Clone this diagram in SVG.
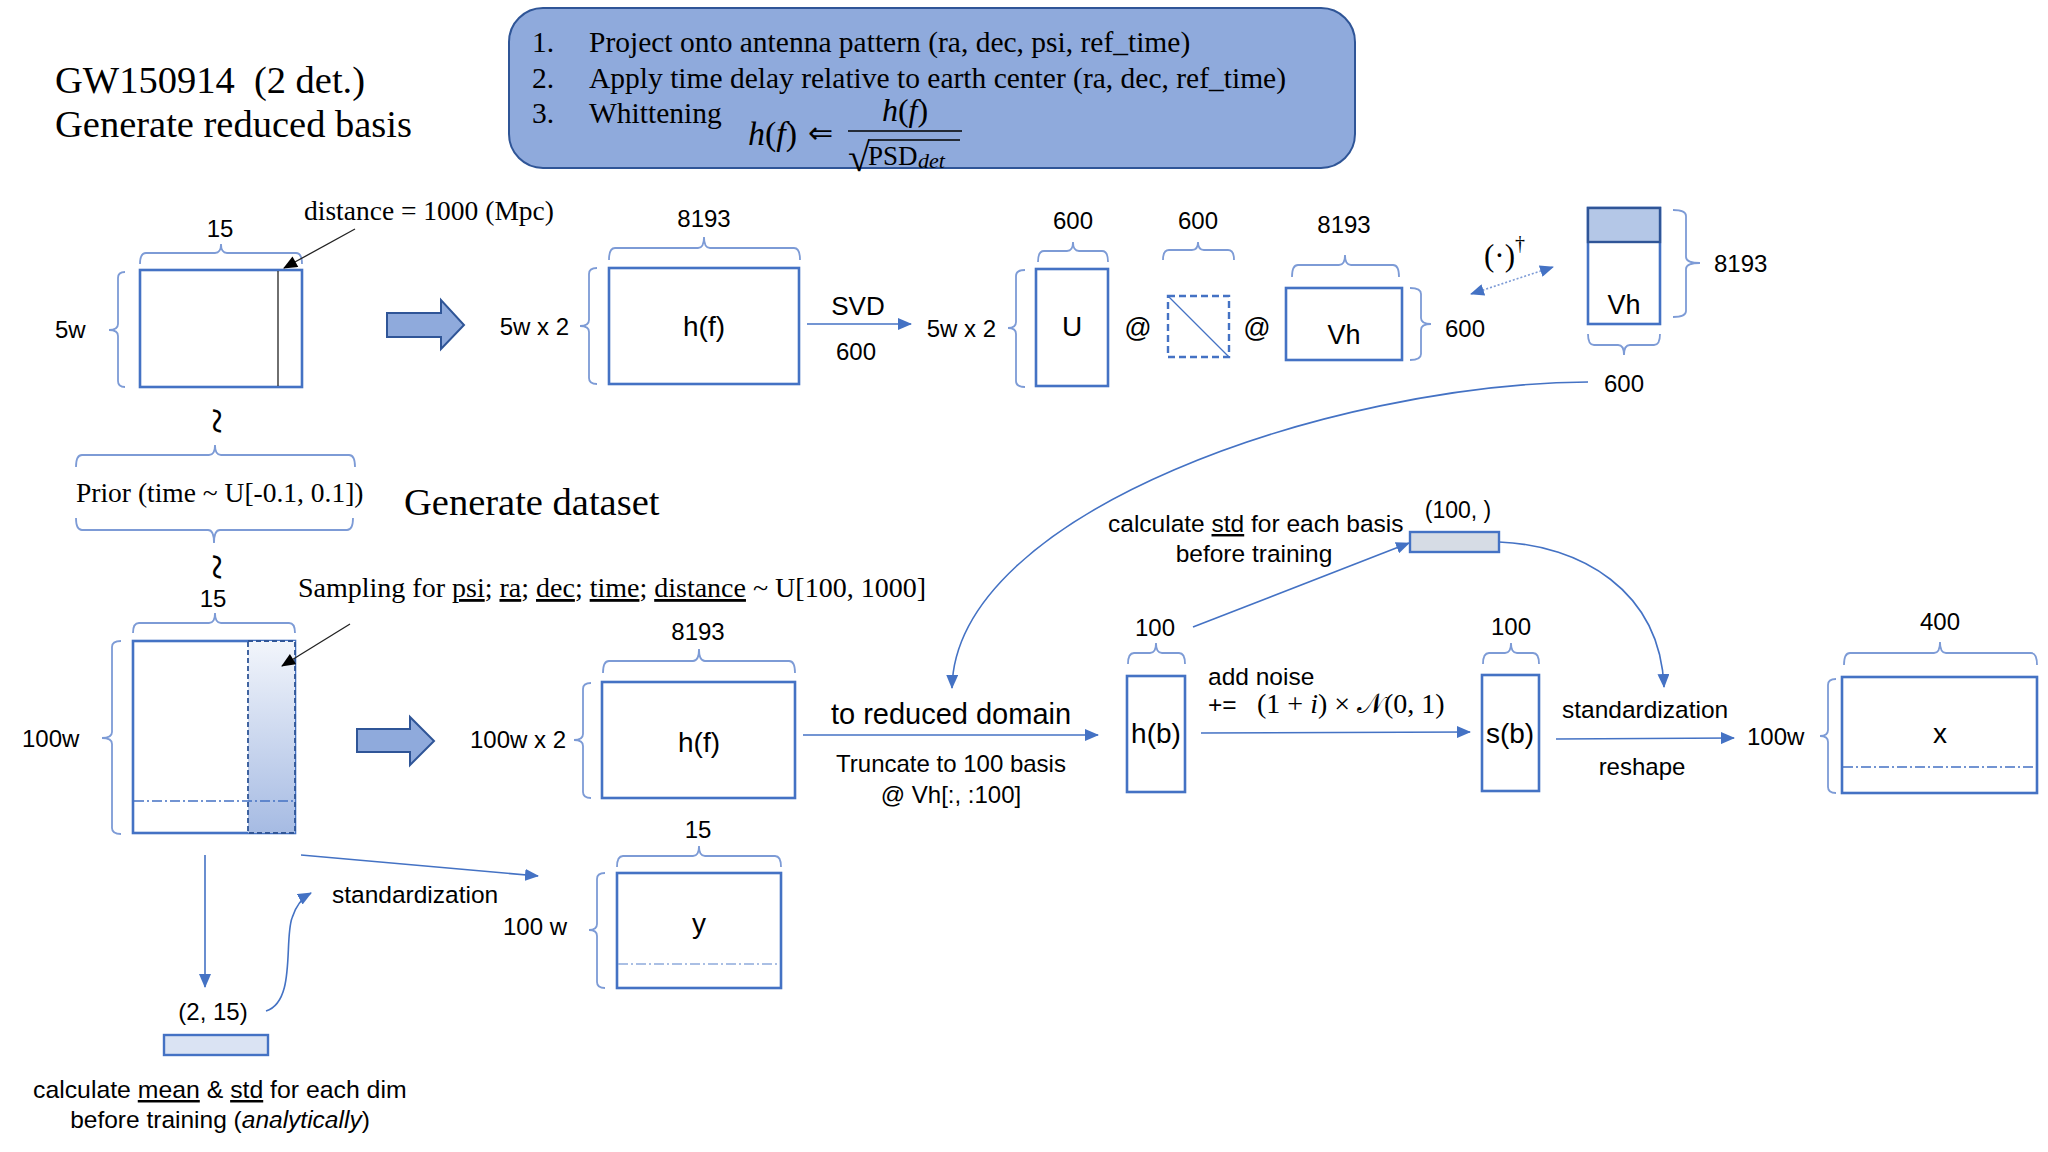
<svg xmlns="http://www.w3.org/2000/svg" width="2048" height="1152" viewBox="0 0 2048 1152">
<style>
.sf{font-family:"Liberation Serif","Times New Roman",serif;fill:#000}
.ss{font-family:"Liberation Sans",Arial,sans-serif;fill:#000}
.r{fill:#fff;stroke:#4472C4;stroke-width:2.6}
.br{fill:none;stroke:#7D9BD6;stroke-width:1.8}
.ln{fill:none;stroke:#4472C4;stroke-width:1.6}
.blk{fill:none;stroke:#222;stroke-width:1.3}
.dd{fill:none;stroke:#4472C4;stroke-width:1.3;stroke-dasharray:10 3 2 3}
.ba{fill:#8FAADC;stroke:#2F5597;stroke-width:2}
.m{text-anchor:middle}
.e{text-anchor:end}
.u{text-decoration:underline}
</style>
<defs>
<marker id="ab" viewBox="0 0 14 12" refX="13" refY="6" markerWidth="14" markerHeight="12" markerUnits="userSpaceOnUse" orient="auto-start-reverse"><path d="M0,0 L14,6 L0,12 z" fill="#4472C4"/></marker>
<marker id="ak" viewBox="0 0 14 12" refX="13" refY="6" markerWidth="15" markerHeight="12" markerUnits="userSpaceOnUse" orient="auto"><path d="M0,0 L14,6 L0,12 z" fill="#000"/></marker>
<linearGradient id="gcol" x1="0" y1="0" x2="0" y2="1"><stop offset="0" stop-color="#F2F5FB"/><stop offset="1" stop-color="#A6BBE3"/></linearGradient>
</defs>

<!-- titles -->
<g id="titles">
<text class="sf" x="55" y="93" font-size="38.5" style="white-space:pre">GW150914  (2 det.)</text>
<text class="sf" x="55" y="137" font-size="38.5">Generate reduced basis</text>
<text class="sf" x="404" y="515" font-size="38.5">Generate dataset</text>
</g>

<!-- info box -->
<g id="steps-box">
<rect x="509" y="8" width="846" height="160" rx="34" fill="#8FAADC" stroke="#2F5597" stroke-width="2"/>
<text class="sf" x="532" y="52" font-size="29.5">1.</text>
<text class="sf" x="589" y="52" font-size="29.5">Project onto antenna pattern (ra, dec, psi, ref_time)</text>
<text class="sf" x="532" y="88" font-size="29.5">2.</text>
<text class="sf" x="589" y="88" font-size="29.5">Apply time delay relative to earth center (ra, dec, ref_time)</text>
<text class="sf" x="532" y="123" font-size="29.5">3.</text>
<text class="sf" x="589" y="123" font-size="29.5">Whittening</text>
<text class="sf" x="748" y="145" font-size="34"><tspan font-style="italic">h</tspan>(<tspan font-style="italic">f</tspan>)</text>
<text x="808" y="143" font-size="30" font-family="DejaVu Sans, sans-serif">⇐</text>
<text class="sf m" x="905" y="121" font-size="32"><tspan font-style="italic">h</tspan>(<tspan font-style="italic">f</tspan>)</text>
<line x1="848" y1="131" x2="962" y2="131" stroke="#000" stroke-width="1.6"/>
<text class="sf" x="848" y="171" font-size="40">√</text>
<line x1="868" y1="140" x2="960" y2="140" stroke="#000" stroke-width="1.4"/>
<text class="sf" x="868" y="165" font-size="27">PSD</text>
<text class="sf" x="918" y="168" font-size="22" font-style="italic">det</text>
</g>

<!-- top row -->
<g id="m-5w">
<rect class="r" x="140" y="270" width="162" height="117"/>
<line x1="278" y1="271" x2="278" y2="386" stroke="#222" stroke-width="1.3"/>
<path class="br" d="M140 264 Q140 253 146 253 L215 253 Q221 253 221 244 Q221 253 227 253 L296 253 Q302 253 302 264"/>
<path class="br" d="M125 272 Q118 272 118 278 L118 324 Q118 330 109 330 Q118 330 118 336 L118 381 Q118 387 125 387"/>
<text class="ss m" x="220" y="237" font-size="24">15</text>
<text class="ss" x="55" y="338" font-size="24">5w</text>
<text class="sf" x="304" y="220" font-size="27.5">distance = 1000 (Mpc)</text>
</g>

<g id="blockarrow-1"><path class="ba" d="M387 313 L441 313 L441 300 L464 325 L441 349 L441 337 L387 337 Z"/></g>

<g id="hf-1">
<rect class="r" x="609" y="268" width="190" height="116"/>
<path class="br" d="M597 268 Q589 268 589 274 L589 320 Q589 326 580 326 Q589 326 589 332 L589 378 Q589 384 597 384"/>
<path class="br" d="M609 260 Q609 248 615 248 L698 248 Q704 248 704 237 Q704 248 710 248 L794 248 Q800 248 800 260"/>
<text class="ss m" x="704" y="336" font-size="28">h(f)</text>
<text class="ss m" x="704" y="227" font-size="24">8193</text>
<text class="ss e" x="569" y="335" font-size="24">5w x 2</text>
</g>

<g id="U">
<rect class="r" x="1036" y="269" width="72" height="117"/>
<path class="br" d="M1025 270 Q1016 270 1016 276 L1016 322 Q1016 328 1008 328 Q1016 328 1016 334 L1016 381 Q1016 387 1025 387"/>
<path class="br" d="M1038 262 Q1038 251 1044 251 L1067 251 Q1073 251 1073 242 Q1073 251 1079 251 L1102 251 Q1108 251 1108 262"/>
<text class="ss m" x="1072" y="336" font-size="28">U</text>
<text class="ss m" x="1073" y="229" font-size="24">600</text>
<text class="ss e" x="996" y="337" font-size="24">5w x 2</text>
</g>

<text class="ss m" x="1138" y="337" font-size="27">@</text>

<g id="S-diag">
<rect x="1168" y="296" width="61" height="61" fill="none" stroke="#4472C4" stroke-width="2.4" stroke-dasharray="7 4"/>
<line x1="1168" y1="296" x2="1229" y2="357" stroke="#4472C4" stroke-width="1.3"/>
<path class="br" d="M1163 260 Q1163 250 1169 250 L1192 250 Q1198 250 1198 242 Q1198 250 1204 250 L1228 250 Q1234 250 1234 260"/>
<text class="ss m" x="1198" y="229" font-size="24">600</text>
</g>

<text class="ss m" x="1257" y="337" font-size="27">@</text>

<g id="Vh">
<rect class="r" x="1286" y="288" width="116" height="72"/>
<path class="br" d="M1292 277 Q1292 265 1298 265 L1339 265 Q1345 265 1345 255 Q1345 265 1351 265 L1393 265 Q1399 265 1399 277"/>
<path class="br" d="M1410 288 Q1421 288 1421 294 L1421 318 Q1421 324 1431 324 Q1421 324 1421 330 L1421 354 Q1421 360 1410 360"/>
<text class="ss m" x="1344" y="344" font-size="27">Vh</text>
<text class="ss m" x="1344" y="233" font-size="24">8193</text>
<text class="ss" x="1445" y="337" font-size="24">600</text>
</g>

<g id="Vh-T">
<rect class="r" x="1588" y="208" width="72" height="116"/>
<rect x="1588" y="208" width="72" height="34" fill="#B4C7E7" stroke="#2F5597" stroke-width="2.4"/>
<path class="br" d="M1673 210 Q1686 210 1686 216 L1686 257 Q1686 263 1700 263 Q1686 263 1686 269 L1686 311 Q1686 317 1673 317"/>
<path class="br" d="M1588 334 Q1588 345 1594 345 L1618 345 Q1624 345 1624 355 Q1624 345 1630 345 L1654 345 Q1660 345 1660 334"/>
<text class="ss m" x="1624" y="314" font-size="27">Vh</text>
<text class="ss" x="1714" y="272" font-size="24">8193</text>
<text class="ss m" x="1624" y="392" font-size="24">600</text>
</g>
<text class="sf" x="1484" y="266" font-size="31">(·)</text>
<text class="sf" x="1515" y="250" font-size="20">†</text>

<!-- prior -->
<g id="prior">
<path class="br" d="M76 467 Q76 455 82 455 L209 455 Q215 455 215 445 Q215 455 221 455 L349 455 Q355 455 355 467"/>
<path class="br" d="M76 518 Q76 530 82 530 L208 530 Q214 530 214 543 Q214 530 220 530 L347 530 Q353 530 353 518"/>
<text class="sf" x="76" y="502" font-size="27.5">Prior (time ~ U[-0.1, 0.1])</text>
</g>
<text class="sf m" transform="translate(213,421) rotate(90)" font-size="48" dy="12">~</text>
<text class="sf m" transform="translate(213,567) rotate(90)" font-size="48" dy="12">~</text>

<!-- dataset -->
<g id="m-100w">
<rect class="r" x="133" y="641" width="162" height="192"/>
<rect x="248" y="641" width="47" height="192" fill="url(#gcol)" stroke="#2F5597" stroke-width="1.8" stroke-dasharray="5 3"/>
<line class="dd" x1="134" y1="801" x2="294" y2="801"/>
<path class="br" d="M133 633 Q133 623 139 623 L209 623 Q215 623 215 613 Q215 623 221 623 L289 623 Q295 623 295 633"/>
<path class="br" d="M121 641 Q112 641 112 647 L112 732 Q112 738 102 738 Q112 738 112 744 L112 828 Q112 834 121 834"/>
<text class="ss m" x="213" y="607" font-size="24">15</text>
<text class="ss" x="22" y="747" font-size="24">100w</text>
</g>
<text class="sf" x="298" y="597" font-size="28">Sampling for <tspan class="u">psi</tspan>; <tspan class="u">ra</tspan>; <tspan class="u">dec</tspan>; <tspan class="u">time</tspan>; <tspan class="u">distance</tspan> ~ U[100, 1000]</text>

<g id="blockarrow-2"><path class="ba" d="M357 729 L410 729 L410 717 L434 741 L410 765 L410 752 L357 752 Z"/></g>

<g id="hf-2">
<rect class="r" x="602" y="682" width="193" height="116"/>
<path class="br" d="M591 683 Q583 683 583 689 L583 734 Q583 740 574 740 Q583 740 583 746 L583 792 Q583 798 591 798"/>
<path class="br" d="M603 673 Q603 661 609 661 L693 661 Q699 661 699 649 Q699 661 705 661 L789 661 Q795 661 795 673"/>
<text class="ss m" x="699" y="752" font-size="28">h(f)</text>
<text class="ss m" x="698" y="640" font-size="24">8193</text>
<text class="ss e" x="566" y="748" font-size="24">100w x 2</text>
</g>

<g id="hb">
<rect class="r" x="1127" y="676" width="58" height="116"/>
<path class="br" d="M1128 664 Q1128 653 1134 653 L1150 653 Q1156 653 1156 643 Q1156 653 1162 653 L1179 653 Q1185 653 1185 664"/>
<text class="ss m" x="1156" y="743" font-size="28">h(b)</text>
<text class="ss m" x="1155" y="636" font-size="24">100</text>
</g>

<g id="std-basis">
<rect x="1410" y="532" width="89" height="20" fill="#D6DCE5" stroke="#4472C4" stroke-width="2.4"/>
<text class="ss m" x="1458" y="518" font-size="23">(100, )</text>
<text class="ss" x="1108" y="532" font-size="24.5">calculate <tspan class="u">std</tspan> for each basis</text>
<text class="ss m" x="1254" y="562" font-size="24.5">before training</text>
</g>

<g id="sb">
<rect class="r" x="1482" y="675" width="57" height="116"/>
<path class="br" d="M1483 664 Q1483 653 1489 653 L1505 653 Q1511 653 1511 643 Q1511 653 1517 653 L1533 653 Q1539 653 1539 664"/>
<text class="ss m" x="1510" y="743" font-size="28">s(b)</text>
<text class="ss m" x="1511" y="635" font-size="24">100</text>
</g>

<g id="x">
<rect class="r" x="1842" y="677" width="195" height="116"/>
<line class="dd" x1="1843" y1="767" x2="2036" y2="767"/>
<path class="br" d="M1836 679 Q1828 679 1828 685 L1828 730 Q1828 736 1820 736 Q1828 736 1828 742 L1828 787 Q1828 793 1836 793"/>
<path class="br" d="M1844 665 Q1844 653 1850 653 L1934 653 Q1940 653 1940 642 Q1940 653 1946 653 L2031 653 Q2037 653 2037 665"/>
<text class="ss m" x="1940" y="743" font-size="28">x</text>
<text class="ss m" x="1940" y="630" font-size="24">400</text>
<text class="ss" x="1747" y="745" font-size="24">100w</text>
</g>

<g id="y">
<rect class="r" x="617" y="873" width="164" height="115"/>
<line class="dd" x1="618" y1="964" x2="780" y2="964" style="stroke:#8FAADC"/>
<path class="br" d="M605 873 Q597 873 597 879 L597 924 Q597 930 589 930 Q597 930 597 936 L597 982 Q597 988 605 988"/>
<path class="br" d="M617 867 Q617 856 623 856 L693 856 Q699 856 699 846 Q699 856 705 856 L775 856 Q781 856 781 867"/>
<text class="ss m" x="699" y="933" font-size="28">y</text>
<text class="ss m" x="698" y="838" font-size="24">15</text>
<text class="ss" x="503" y="935" font-size="24">100 w</text>
</g>

<g id="mean-std">
<rect x="164" y="1035" width="104" height="20" fill="#DAE3F3" stroke="#4472C4" stroke-width="2.4"/>
<text class="ss m" x="213" y="1020" font-size="24">(2, 15)</text>
<text class="ss" x="33" y="1098" font-size="24.8">calculate <tspan class="u">mean</tspan> &amp; <tspan class="u">std</tspan> for each dim</text>
<text class="ss m" x="220" y="1128" font-size="24.5">before training (<tspan font-style="italic">analytically</tspan>)</text>
</g>

<!-- connector labels -->
<g id="labels">
<text class="ss m" x="858" y="315" font-size="26">SVD</text>
<text class="ss m" x="856" y="360" font-size="24">600</text>
<text class="ss m" x="951" y="724" font-size="29">to reduced domain</text>
<text class="ss m" x="951" y="772" font-size="24">Truncate to 100 basis</text>
<text class="ss m" x="951" y="803" font-size="24">@ Vh[:, :100]</text>
<text class="ss" x="1208" y="685" font-size="24.5">add noise</text>
<text class="ss" x="1208" y="713" font-size="24.5">+=</text>
<text class="sf" x="1257" y="713" font-size="28">(1 + <tspan font-style="italic">i</tspan>) × 𝒩(0, 1)</text>
<text class="ss" x="1562" y="718" font-size="24.5">standardization</text>
<text class="ss m" x="1642" y="775" font-size="24">reshape</text>
<text class="ss" x="332" y="903" font-size="24.5">standardization</text>
</g>

<!-- connectors -->
<g id="connectors">
<line class="blk" x1="355" y1="229" x2="284" y2="268" marker-end="url(#ak)"/>
<line class="blk" x1="350" y1="624" x2="282" y2="666" marker-end="url(#ak)"/>
<line class="ln" x1="807" y1="324" x2="911" y2="324" marker-end="url(#ab)"/>
<line x1="1471" y1="294" x2="1553" y2="267" stroke="#7D9BD6" stroke-width="1.6" stroke-dasharray="2 2" marker-start="url(#ab)" marker-end="url(#ab)"/>
<path class="ln" d="M1588 382 C1330 384 955 512 952 688" marker-end="url(#ab)"/>
<line class="ln" x1="803" y1="735" x2="1098" y2="735" marker-end="url(#ab)"/>
<line class="ln" x1="1193" y1="627" x2="1409" y2="543" marker-end="url(#ab)"/>
<path class="ln" d="M1499 542 C1580 545 1660 590 1664 687" marker-end="url(#ab)"/>
<line class="ln" x1="1201" y1="733" x2="1470" y2="732" marker-end="url(#ab)"/>
<line class="ln" x1="1556" y1="739" x2="1734" y2="738" marker-end="url(#ab)"/>
<line class="ln" x1="205" y1="855" x2="205" y2="987" marker-end="url(#ab)"/>
<line class="ln" x1="301" y1="855" x2="538" y2="876" marker-end="url(#ab)"/>
<path class="ln" d="M266 1011 C296 1002 284 940 292 918 C296 905 302 898 311 893" marker-end="url(#ab)"/>
</g>
</svg>
